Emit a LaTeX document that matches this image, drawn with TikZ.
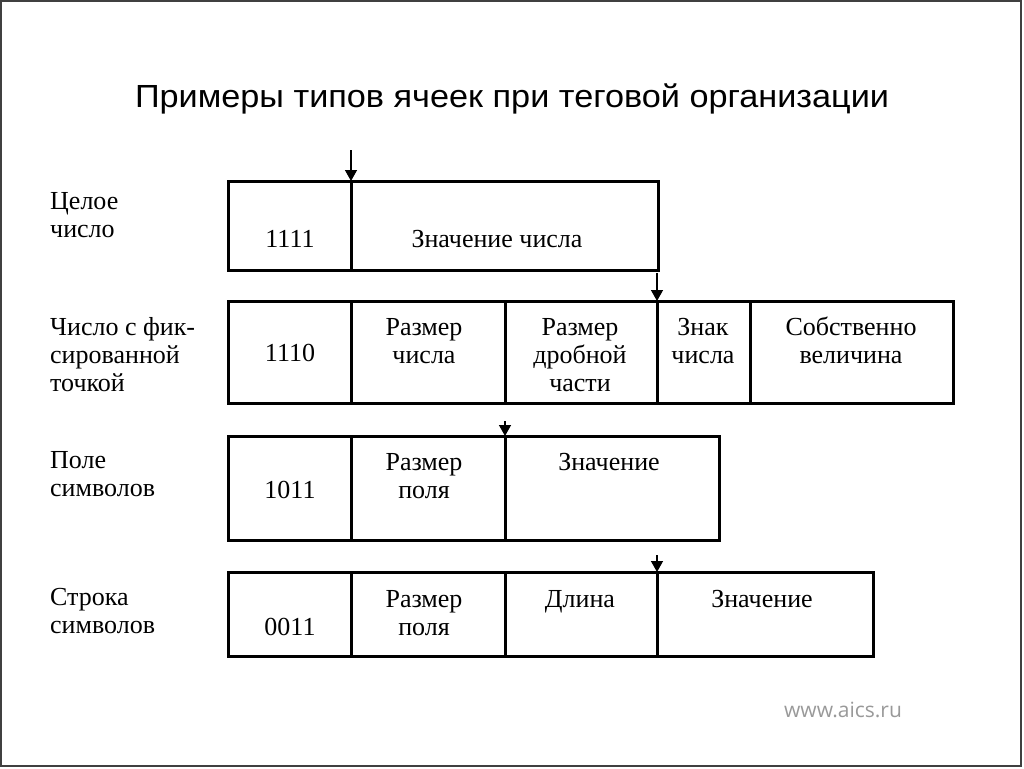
\documentclass[tikz,border=0pt]{standalone}
\usepackage{fontspec}
\setmainfont{Liberation Serif}
\newfontfamily\titlefont{Liberation Sans}
\newfontfamily\wmfont{Open Sans}
\usetikzlibrary{arrows.meta}
\tikzset{
  cell/.style={draw, line width=3pt, anchor=north west, inner sep=0pt, outer sep=0pt},
  txt/.style={align=center, anchor=base, inner sep=0pt, font=\fontsize{26}{28}\selectfont},
  lbl/.style={align=left, anchor=base west, inner sep=0pt, font=\fontsize{26}{28}\selectfont},
  ptr/.style={line width=1.4pt, -{Triangle[width=12pt,length=11pt]}},
}
\newcommand{\mkcell}[5]{%
  \pgfmathsetmacro{\cw}{#3-#2}\pgfmathsetmacro{\ch}{#5-#4}%
  \node[cell, minimum width=\cw pt, minimum height=\ch pt] (#1) at (#2,#4) {};}
\begin{document}
\begin{tikzpicture}[x=1pt,y=-1pt]
\useasboundingbox (0,0) rectangle (1024,768);
\draw[line width=2pt, black!75] (1,1) rectangle (1021,766);
\node[font=\titlefont\fontsize{32}{36}\selectfont, anchor=base, inner sep=0pt, xscale=1.07] (title) at (512,107) {Примеры типов ячеек при теговой организации};
% row 1
\mkcell{a1}{228}{351}{181}{270}
\mkcell{a2}{351}{658}{181}{270}
\node[txt] (ta1) at (290,247) {1111};
\node[txt] (ta2) at (497,247) {Значение числа};
\node[lbl] (la) at (50,237) {Целое\\число};
\coordinate (pa) at (351,150);
\draw[ptr] (pa) -- (a2.north west);
% row 2
\mkcell{b1}{228}{351}{301}{403}
\mkcell{b2}{351}{505}{301}{403}
\mkcell{b3}{505}{657}{301}{403}
\mkcell{b4}{657}{750}{301}{403}
\mkcell{b5}{750}{953}{301}{403}
\node[txt] (tb1) at (290,361) {1110};
\node[txt] (tb2) at (424,363) {Размер\\числа};
\node[txt] (tb3) at (580,391) {Размер\\дробной\\части};
\node[txt] (tb4) at (703,363) {Знак\\числа};
\node[txt] (tb5) at (851,363) {Собственно\\величина};
\node[lbl] (lb) at (50,391) {Число с фик-\\сированной\\точкой};
\coordinate (pb) at (657,273);
\draw[ptr] (pb) -- (b4.north west);
% row 3
\mkcell{c1}{228}{351}{436}{540}
\mkcell{c2}{351}{505}{436}{540}
\mkcell{c3}{505}{719}{436}{540}
\node[txt] (tc1) at (290,498) {1011};
\node[txt] (tc2) at (424,498) {Размер\\поля};
\node[txt] (tc3) at (609,470) {Значение};
\node[lbl] (lc) at (50,496) {Поле\\символов};
\coordinate (pc) at (505,421);
\draw[ptr] (pc) -- (c3.north west);
% row 4
\mkcell{d1}{228}{351}{572}{656}
\mkcell{d2}{351}{505}{572}{656}
\mkcell{d3}{505}{657}{572}{656}
\mkcell{d4}{657}{873}{572}{656}
\node[txt] (td1) at (290,635) {0011};
\node[txt] (td2) at (424,635) {Размер\\поля};
\node[txt] (td3) at (580,607) {Длина};
\node[txt] (td4) at (762,607) {Значение};
\node[lbl] (ld) at (50,633) {Строка\\символов};
\coordinate (pd) at (657,555);
\draw[ptr] (pd) -- (d4.north west);
% footer
\node[font=\wmfont\fontsize{21}{24}\selectfont, text=black!40] (www) at (843,710) {www.aics.ru};
\end{tikzpicture}
\end{document}
